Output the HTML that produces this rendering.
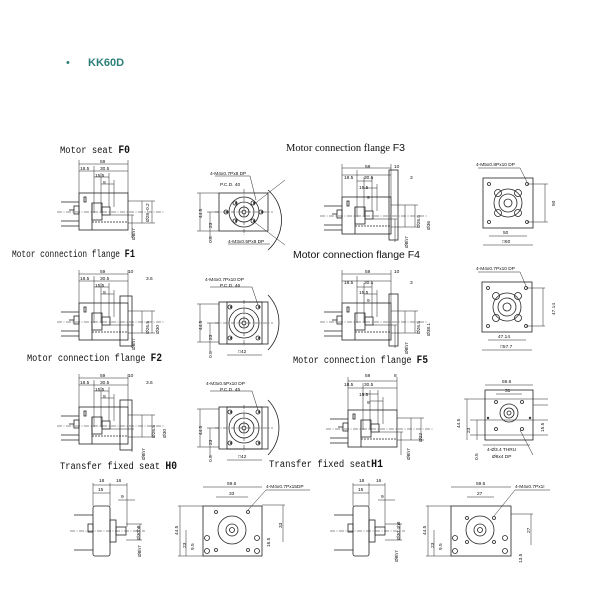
<!DOCTYPE html>
<html><head><meta charset="utf-8"><style>
html,body{margin:0;padding:0;background:#fff;width:600px;height:600px;overflow:hidden}
svg{display:block}
.t{font-family:"Liberation Mono",monospace;font-size:10px;fill:#111}
.ts{font-family:"Liberation Serif",serif;font-size:10px;fill:#111}
.ta{font-family:"Liberation Sans",sans-serif;font-size:10px;fill:#111}
.d{font-family:"Liberation Sans",sans-serif;font-size:4.8px;fill:#111}
.b{font-family:"Liberation Sans",sans-serif;font-weight:bold;font-size:11px}
</style></head><body>
<svg width="600" height="600" viewBox="0 0 600 600" xmlns="http://www.w3.org/2000/svg">
<defs>
<g id="side" fill="none" stroke="#222" stroke-width="0.8">
  <rect x="0" y="0" width="49" height="37"/>
  <line x1="0" y1="-33" x2="0" y2="0" stroke-width="0.5"/>
  <line x1="49" y1="-33" x2="49" y2="0" stroke-width="0.5"/>
  <line x1="15" y1="-27" x2="15" y2="20" stroke-width="0.5"/>
  <line x1="22" y1="-20" x2="22" y2="20" stroke-width="0.5"/>
  <line x1="30" y1="-20" x2="30" y2="14" stroke-width="0.5"/>
  <line x1="35" y1="-13" x2="35" y2="14" stroke-width="0.5"/>
  <line x1="0" y1="-29" x2="49" y2="-29" stroke-width="0.5"/>
  <line x1="0" y1="-22" x2="49" y2="-22" stroke-width="0.5"/>
  <line x1="15" y1="-16" x2="30" y2="-16" stroke-width="0.5"/>
  <line x1="22" y1="-9" x2="35" y2="-9" stroke-width="0.5"/>
  <rect x="13" y="10" width="10" height="17"/>
  <rect x="23" y="14" width="8" height="8"/>
  <line x1="13" y1="29" x2="49" y2="29" stroke-dasharray="2 1"/>
  <line x1="13" y1="10" x2="13" y2="37"/>
  <line x1="-18" y1="9" x2="0" y2="9"/>
  <line x1="-18" y1="28" x2="0" y2="28"/>
  <line x1="-18" y1="33" x2="0" y2="33"/>
  <rect x="-5" y="13" width="5" height="8"/>
  <line x1="-10" y1="17" x2="-5" y2="17"/>
  <line x1="-22" y1="19" x2="85" y2="19" stroke-dasharray="5 1.5 1 1.5" stroke-width="0.5"/>
  <rect x="5" y="4" width="2" height="5"/>
  <line x1="49" y1="8" x2="76" y2="8" stroke-width="0.5"/>
  <line x1="49" y1="30" x2="76" y2="30" stroke-width="0.5"/>
  <line x1="63" y1="8" x2="63" y2="30" stroke-width="0.5"/>
  <line x1="73" y1="8" x2="73" y2="30" stroke-width="0.5"/>
  <line x1="31" y1="22" x2="55" y2="22" stroke-width="0.5"/>
  <line x1="53" y1="22" x2="53" y2="45" stroke-width="0.5"/>
</g>
<g id="front" fill="none" stroke="#222" stroke-width="0.8">
  <circle cx="25" cy="19" r="15"/>
  <circle cx="25" cy="19" r="10"/>
  <circle cx="25" cy="19" r="5"/>
  <circle cx="25" cy="19" r="2"/>
  <line x1="-4" y1="19" x2="54" y2="19" stroke-dasharray="4 1.5 1 1.5" stroke-width="0.5"/>
  <line x1="25" y1="-4" x2="25" y2="42" stroke-dasharray="4 1.5 1 1.5" stroke-width="0.5"/>
  <line x1="-22" y1="0" x2="0" y2="0" stroke-width="0.5"/>
  <line x1="-12" y1="19" x2="0" y2="19" stroke-width="0.5"/>
  <line x1="-22" y1="38" x2="0" y2="38" stroke-width="0.5"/>
  <line x1="-19" y1="0" x2="-19" y2="38" stroke-width="0.5"/>
  <line x1="-9" y1="19" x2="-9" y2="38" stroke-width="0.5"/>
  <line x1="-9" y1="38" x2="-9" y2="48" stroke-width="0.5"/>
</g>
<g id="holes4" fill="none" stroke="#222" stroke-width="0.8">
  <circle cx="0" cy="0" r="2"/><circle cx="1" cy="0" r="0.6"/>
</g>
</defs>

<text x="66" y="66" style="font-family:'Liberation Sans',sans-serif;font-size:11px;fill:#2d7f78">•</text>
<text x="88" y="66" class="b" fill="#2d7f78">KK60D</text>

<!-- titles -->
<text x="60" y="153" class="t" textLength="70" lengthAdjust="spacingAndGlyphs">Motor seat <tspan font-size="11" font-weight="bold">F0</tspan></text>
<text x="286" y="151" class="ts" textLength="119" lengthAdjust="spacingAndGlyphs">Motor connection flange <tspan class="ta" font-size="11">F3</tspan></text>
<text x="12" y="257" class="t" textLength="123" lengthAdjust="spacingAndGlyphs">Motor connection flange <tspan font-size="11" font-weight="bold">F1</tspan></text>
<text x="293" y="258" class="ta" font-size="10.5" textLength="127" lengthAdjust="spacingAndGlyphs">Motor connection flange F4</text>
<text x="27" y="361" class="t" textLength="135" lengthAdjust="spacingAndGlyphs">Motor connection flange <tspan font-size="11" font-weight="bold">F2</tspan></text>
<text x="293" y="363" class="t" textLength="135" lengthAdjust="spacingAndGlyphs">Motor connection flange <tspan font-size="11" font-weight="bold">F5</tspan></text>
<text x="60" y="469" class="t" textLength="117" lengthAdjust="spacingAndGlyphs">Transfer fixed seat <tspan font-size="11" font-weight="bold">H0</tspan></text>
<text x="269" y="467" class="t" textLength="114" lengthAdjust="spacingAndGlyphs">Transfer fixed seat<tspan font-size="11" font-weight="bold">H1</tspan></text>

<!-- side views -->
<use href="#side" x="79" y="193"/>
<text class="d" x="100" y="163">59</text><text class="d" x="80" y="170">18.5</text><text class="d" x="100" y="170">30.5</text><text class="d" x="95" y="177">15.5</text><text class="d" x="103" y="184">9</text>
<text class="d" transform="translate(149,222) rotate(-90)">Ø28 -0.2</text><text class="d" transform="translate(135,240) rotate(-90)">Ø8h7</text>

<use href="#side" x="79" y="303"/>
<rect x="120" y="296" width="12" height="50" fill="none" stroke="#222" stroke-width="0.8"/>
<text class="d" x="100" y="273">59</text><text class="d" x="128" y="273">10</text><text class="d" x="80" y="280">18.5</text><text class="d" x="100" y="280">30.5</text><text class="d" x="146" y="280">3.5</text><text class="d" x="95" y="287">15.5</text><text class="d" x="103" y="294">9</text>
<text class="d" transform="translate(149,334) rotate(-90)">Ø26.5</text><text class="d" transform="translate(159,334) rotate(-90)">Ø30</text><text class="d" transform="translate(135,350) rotate(-90)">Ø8h7</text>

<use href="#side" x="79" y="407"/>
<rect x="120" y="400" width="12" height="50" fill="none" stroke="#222" stroke-width="0.8"/>
<text class="d" x="100" y="377">59</text><text class="d" x="128" y="377">10</text><text class="d" x="80" y="384">18.5</text><text class="d" x="100" y="384">30.5</text><text class="d" x="146" y="384">3.5</text><text class="d" x="95" y="391">15.5</text><text class="d" x="103" y="398">9</text>
<text class="d" transform="translate(155,438) rotate(-90)">Ø26.5</text><text class="d" transform="translate(166,438) rotate(-90)">Ø30</text><text class="d" transform="translate(145,460) rotate(-90)">Ø8h7</text>

<use href="#side" x="342" y="197"/>
<rect x="389" y="170" width="9" height="70" fill="none" stroke="#222" stroke-width="0.8"/>
<text class="d" x="365" y="168">59</text><text class="d" x="394" y="168">10</text><text class="d" x="344" y="179">18.5</text><text class="d" x="364" y="179">30.5</text><text class="d" x="410" y="179">3</text><text class="d" x="359" y="189">15.5</text><text class="d" x="367" y="199">9</text>
<text class="d" transform="translate(420,228) rotate(-90)">Ø26.5</text><text class="d" transform="translate(430,230) rotate(-90)">Ø36</text><text class="d" transform="translate(408,248) rotate(-90)">Ø8h7</text>

<use href="#side" x="342" y="303"/>
<rect x="389" y="294" width="9" height="52" fill="none" stroke="#222" stroke-width="0.8"/>
<text class="d" x="365" y="273">59</text><text class="d" x="394" y="273">10</text><text class="d" x="344" y="284">18.5</text><text class="d" x="364" y="284">30.5</text><text class="d" x="410" y="284">3</text><text class="d" x="359" y="294">15.5</text><text class="d" x="367" y="302">9</text>
<text class="d" transform="translate(420,334) rotate(-90)">Ø26.5</text><text class="d" transform="translate(430,336) rotate(-90)">Ø38.1</text><text class="d" transform="translate(408,354) rotate(-90)">Ø8h7</text>

<use href="#side" x="348" y="410"/>
<text class="d" x="365" y="377">59</text><text class="d" x="394" y="377">8</text><text class="d" x="344" y="386">18.5</text><text class="d" x="364" y="386">30.5</text><text class="d" x="359" y="396">15.5</text><text class="d" x="367" y="404">9</text>
<text class="d" transform="translate(422,442) rotate(-90)">Ø22</text><text class="d" transform="translate(410,460) rotate(-90)">Ø8h7</text>

<!-- front views F0 F1 F2 -->
<g fill="none" stroke="#222" stroke-width="0.8">
<rect x="219" y="193" width="49" height="38"/>
<use href="#front" x="219" y="193"/>
<path d="M268 190 A40 40 0 0 1 268 250" />
<line x1="253" y1="205" x2="285" y2="180" stroke-width="0.5"/>
<line x1="253" y1="221" x2="285" y2="245" stroke-width="0.5"/>
<use href="#holes4" x="235" y="203"/><use href="#holes4" x="253" y="203"/><use href="#holes4" x="235" y="221"/><use href="#holes4" x="253" y="221"/>
<use href="#holes4" x="226" y="212"/><use href="#holes4" x="261" y="212"/>
<line x1="215" y1="176" x2="250" y2="176" stroke-width="0.5"/><line x1="250" y1="176" x2="256" y2="200" stroke-width="0.5"/>
<line x1="228" y1="244" x2="270" y2="244" stroke-width="0.5"/>

<rect x="219" y="302" width="49" height="42"/>
<rect x="227" y="302" width="35" height="42"/>
<use href="#front" x="219" y="304"/>
<path d="M268 295 A40 40 0 0 1 268 350"/>
<use href="#holes4" x="230" y="307"/><use href="#holes4" x="258" y="307"/><use href="#holes4" x="230" y="338"/><use href="#holes4" x="258" y="338"/>
<line x1="210" y1="287" x2="252" y2="287" stroke-width="0.5"/><line x1="252" y1="287" x2="258" y2="305" stroke-width="0.5"/>
<line x1="227" y1="355" x2="262" y2="355" stroke-width="0.5"/>

<rect x="219" y="407" width="49" height="42"/>
<rect x="227" y="407" width="35" height="42"/>
<use href="#front" x="219" y="409"/>
<path d="M268 400 A40 40 0 0 1 268 455"/>
<use href="#holes4" x="230" y="412"/><use href="#holes4" x="258" y="412"/><use href="#holes4" x="230" y="443"/><use href="#holes4" x="258" y="443"/>
<line x1="210" y1="391" x2="252" y2="391" stroke-width="0.5"/><line x1="252" y1="391" x2="258" y2="410" stroke-width="0.5"/>
<line x1="227" y1="460" x2="262" y2="460" stroke-width="0.5"/>
</g>
<text class="d" x="210" y="175">4-M4x0.7Px8 DP</text><text class="d" x="220" y="186">P.C.D. 40</text>
<text class="d" x="228" y="243">4-M3x0.5Px8 DP</text>
<text class="d" transform="translate(202,218) rotate(-90)">44.5</text><text class="d" transform="translate(212,228) rotate(-90)">23</text><text class="d" transform="translate(212,243) rotate(-90)">0.5</text>
<text class="d" x="205" y="281">4-M4x0.7Px10 DP</text><text class="d" x="220" y="287">P.C.D. 46</text><text class="d" x="238" y="353">□42</text>
<text class="d" transform="translate(202,330) rotate(-90)">44.5</text><text class="d" transform="translate(212,340) rotate(-90)">23</text><text class="d" transform="translate(212,358) rotate(-90)">0.5</text>
<text class="d" x="206" y="385">4-M3x0.5Px10 DP</text><text class="d" x="220" y="391">P.C.D. 45</text><text class="d" x="238" y="458">□42</text>
<text class="d" transform="translate(202,435) rotate(-90)">44.5</text><text class="d" transform="translate(212,445) rotate(-90)">23</text><text class="d" transform="translate(212,462) rotate(-90)">0.5</text>

<!-- F3 F4 F5 fronts -->
<g fill="none" stroke="#222" stroke-width="0.8">
<rect x="483" y="178" width="50" height="50"/>
<circle cx="508" cy="203" r="14"/><circle cx="508" cy="203" r="9"/><circle cx="508" cy="203" r="4"/>
<circle cx="498" cy="193" r="3.5"/><circle cx="518" cy="193" r="3.5"/><circle cx="498" cy="213" r="3.5"/><circle cx="518" cy="213" r="3.5"/>
<circle cx="489" cy="184" r="1.5"/><circle cx="527" cy="184" r="1.5"/><circle cx="489" cy="222" r="1.5"/><circle cx="527" cy="222" r="1.5"/>
<line x1="527" y1="184" x2="548" y2="184" stroke-width="0.5"/><line x1="527" y1="222" x2="548" y2="222" stroke-width="0.5"/><line x1="545" y1="184" x2="545" y2="222" stroke-width="0.5"/>
<line x1="489" y1="236" x2="527" y2="236" stroke-width="0.5"/><line x1="483" y1="245" x2="533" y2="245" stroke-width="0.5"/>
<line x1="478" y1="168" x2="520" y2="168" stroke-width="0.5"/><line x1="520" y1="168" x2="527" y2="182" stroke-width="0.5"/>

<rect x="482" y="282" width="50" height="50"/>
<circle cx="507" cy="307" r="14"/><circle cx="507" cy="307" r="9"/><circle cx="507" cy="307" r="4"/>
<circle cx="496" cy="296" r="3.5"/><circle cx="518" cy="296" r="3.5"/><circle cx="496" cy="318" r="3.5"/><circle cx="518" cy="318" r="3.5"/>
<circle cx="488" cy="288" r="1.5"/><circle cx="526" cy="288" r="1.5"/><circle cx="488" cy="326" r="1.5"/><circle cx="526" cy="326" r="1.5"/>
<line x1="526" y1="288" x2="545" y2="288" stroke-width="0.5"/><line x1="526" y1="326" x2="545" y2="326" stroke-width="0.5"/><line x1="543" y1="288" x2="543" y2="326" stroke-width="0.5"/>
<line x1="488" y1="340" x2="526" y2="340" stroke-width="0.5"/><line x1="482" y1="350" x2="532" y2="350" stroke-width="0.5"/>
<line x1="478" y1="272" x2="520" y2="272" stroke-width="0.5"/><line x1="520" y1="272" x2="526" y2="286" stroke-width="0.5"/>

<rect x="485" y="390" width="48" height="50"/>
<circle cx="509" cy="413" r="9"/><circle cx="509" cy="413" r="5"/><circle cx="509" cy="413" r="2"/>
<circle cx="496" cy="402" r="1.5"/><circle cx="522" cy="402" r="1.5"/><circle cx="496" cy="429" r="1.5"/><circle cx="522" cy="429" r="1.5"/>
<circle cx="488" cy="418" r="0.8"/><circle cx="530" cy="418" r="0.8"/>
<line x1="464" y1="399" x2="548" y2="399" stroke-width="0.5"/><line x1="533" y1="405" x2="548" y2="405" stroke-width="0.5"/>
<line x1="470" y1="420" x2="548" y2="420" stroke-width="0.5"/><line x1="470" y1="435" x2="548" y2="435" stroke-width="0.5"/>
<line x1="467" y1="399" x2="467" y2="440" stroke-width="0.5"/><line x1="477" y1="420" x2="477" y2="440" stroke-width="0.5"/>
<line x1="485" y1="385" x2="533" y2="385" stroke-width="0.5"/><line x1="496" y1="394" x2="522" y2="394" stroke-width="0.5"/>
<line x1="483" y1="445" x2="530" y2="445" stroke-width="0.5"/><line x1="520" y1="430" x2="533" y2="455" stroke-width="0.5"/>
</g>
<text class="d" x="476" y="166">4-M5x0.8Px10 DP</text><text class="d" x="503" y="234">50</text><text class="d" x="502" y="243">□60</text>
<text class="d" transform="translate(555,206) rotate(-90)">50</text>
<text class="d" x="476" y="270">4-M4x0.7Px10 DP</text><text class="d" x="498" y="338">47.14</text><text class="d" x="500" y="348">□57.7</text>
<text class="d" transform="translate(555,315) rotate(-90)">47.14</text>
<text class="d" x="502" y="383">59.6</text><text class="d" x="505" y="392">31</text>
<text class="d" x="487" y="451">4-Ø3.4 THRU</text><text class="d" x="492" y="458">Ø6x4 DP</text>
<text class="d" transform="translate(460,428) rotate(-90)">44.5</text><text class="d" transform="translate(470,433) rotate(-90)">23</text><text class="d" transform="translate(478,460) rotate(-90)">0.5</text><text class="d" transform="translate(544,432) rotate(-90)">15.5</text>

<!-- H0 H1 -->
<g fill="none" stroke="#222" stroke-width="0.8">
<rect x="93" y="506" width="17" height="50" rx="2"/>
<rect x="110" y="520" width="6" height="22"/><rect x="116" y="527" width="10" height="8"/>
<line x1="74" y1="515" x2="93" y2="515"/><line x1="74" y1="550" x2="93" y2="550"/><rect x="88" y="524" width="5" height="8"/>
<line x1="70" y1="531" x2="145" y2="531" stroke-dasharray="5 1.5 1 1.5" stroke-width="0.5"/>
<line x1="93" y1="483" x2="93" y2="506" stroke-width="0.5"/><line x1="110" y1="483" x2="110" y2="506" stroke-width="0.5"/><line x1="127" y1="483" x2="127" y2="527" stroke-width="0.5"/>
<line x1="93" y1="485" x2="127" y2="485" stroke-width="0.5"/><line x1="93" y1="493" x2="110" y2="493" stroke-width="0.5"/><line x1="118" y1="500" x2="135" y2="500" stroke-width="0.5"/>
<line x1="126" y1="524" x2="142" y2="524" stroke-width="0.5"/><line x1="126" y1="540" x2="142" y2="540" stroke-width="0.5"/><line x1="140" y1="524" x2="140" y2="540" stroke-width="0.5"/>

<rect x="353" y="506" width="16" height="50" rx="2"/>
<rect x="369" y="520" width="6" height="22"/><rect x="375" y="527" width="10" height="8"/>
<line x1="334" y1="515" x2="353" y2="515"/><line x1="334" y1="550" x2="353" y2="550"/><rect x="348" y="524" width="5" height="8"/>
<line x1="330" y1="531" x2="405" y2="531" stroke-dasharray="5 1.5 1 1.5" stroke-width="0.5"/>
<line x1="353" y1="483" x2="353" y2="506" stroke-width="0.5"/><line x1="369" y1="483" x2="369" y2="506" stroke-width="0.5"/><line x1="385" y1="483" x2="385" y2="527" stroke-width="0.5"/>
<line x1="353" y1="485" x2="385" y2="485" stroke-width="0.5"/><line x1="353" y1="493" x2="369" y2="493" stroke-width="0.5"/><line x1="378" y1="500" x2="395" y2="500" stroke-width="0.5"/>
<line x1="385" y1="524" x2="402" y2="524" stroke-width="0.5"/><line x1="385" y1="540" x2="402" y2="540" stroke-width="0.5"/><line x1="400" y1="524" x2="400" y2="540" stroke-width="0.5"/>

<rect x="203" y="506" width="59" height="50"/>
<circle cx="232" cy="530" r="14"/><circle cx="232" cy="530" r="6"/><circle cx="232" cy="530" r="2.5"/>
<circle cx="216" cy="512" r="1.5"/><circle cx="248" cy="512" r="1.5"/><circle cx="216" cy="550" r="1.5"/><circle cx="248" cy="550" r="1.5"/>
<circle cx="207" cy="538" r="2.5"/><circle cx="257" cy="538" r="2.5"/><circle cx="207" cy="551" r="2.5"/><circle cx="257" cy="551" r="2.5"/>
<line x1="203" y1="487" x2="262" y2="487" stroke-width="0.5"/><line x1="216" y1="497" x2="248" y2="497" stroke-width="0.5"/>
<line x1="178" y1="506" x2="203" y2="506" stroke-width="0.5"/><line x1="180" y1="506" x2="180" y2="556" stroke-width="0.5"/><line x1="186" y1="530" x2="186" y2="556" stroke-width="0.5"/>
<line x1="178" y1="556" x2="203" y2="556" stroke-width="0.5"/><line x1="262" y1="505" x2="285" y2="505" stroke-width="0.5"/><line x1="283" y1="505" x2="283" y2="542" stroke-width="0.5"/>
<line x1="248" y1="510" x2="266" y2="490" stroke-width="0.5"/><line x1="266" y1="490" x2="310" y2="490" stroke-width="0.5"/>

<rect x="451" y="506" width="60" height="50"/>
<circle cx="480" cy="530" r="14"/><circle cx="480" cy="530" r="6"/><circle cx="480" cy="530" r="2.5"/>
<circle cx="467" cy="518" r="1.5"/><circle cx="494" cy="518" r="1.5"/><circle cx="467" cy="542" r="1.5"/><circle cx="494" cy="542" r="1.5"/>
<circle cx="455" cy="538" r="2.5"/><circle cx="505" cy="538" r="2.5"/><circle cx="455" cy="551" r="2.5"/><circle cx="505" cy="551" r="2.5"/>
<line x1="451" y1="487" x2="511" y2="487" stroke-width="0.5"/><line x1="467" y1="497" x2="494" y2="497" stroke-width="0.5"/>
<line x1="426" y1="506" x2="451" y2="506" stroke-width="0.5"/><line x1="428" y1="506" x2="428" y2="556" stroke-width="0.5"/><line x1="434" y1="530" x2="434" y2="556" stroke-width="0.5"/>
<line x1="426" y1="556" x2="451" y2="556" stroke-width="0.5"/><line x1="511" y1="514" x2="533" y2="514" stroke-width="0.5"/><line x1="531" y1="514" x2="531" y2="545" stroke-width="0.5"/>
<line x1="494" y1="516" x2="515" y2="490" stroke-width="0.5"/><line x1="515" y1="490" x2="550" y2="490" stroke-width="0.5"/>
</g>
<text class="d" x="99" y="482">18</text><text class="d" x="116" y="482">16</text><text class="d" x="98" y="491">15</text><text class="d" x="121" y="498">9</text>
<text class="d" transform="translate(141,557) rotate(-90)">Ø8h7</text><text class="d" transform="translate(140,540) rotate(-90)">Ø30h8</text>
<text class="d" x="359" y="482">18</text><text class="d" x="376" y="482">16</text><text class="d" x="358" y="491">15</text><text class="d" x="381" y="498">9</text>
<text class="d" transform="translate(398,562) rotate(-90)">Ø8h7</text><text class="d" transform="translate(400,540) rotate(-90)">Ø30.4h8</text>
<text class="d" x="227" y="485">59.6</text><text class="d" x="229" y="495">33</text><text class="d" x="266" y="488">4-M4x0.7Px15DP</text>
<text class="d" transform="translate(178,535) rotate(-90)">44.5</text><text class="d" transform="translate(186,548) rotate(-90)">23</text><text class="d" transform="translate(194,550) rotate(-90)">9.5</text>
<text class="d" transform="translate(282,528) rotate(-90)">33</text><text class="d" transform="translate(270,547) rotate(-90)">16.5</text>
<text class="d" x="476" y="485">59.6</text><text class="d" x="477" y="495">27</text><text class="d" x="515" y="488">4-M4x0.7Px1!</text>
<text class="d" transform="translate(426,535) rotate(-90)">44.5</text><text class="d" transform="translate(434,548) rotate(-90)">23</text><text class="d" transform="translate(442,550) rotate(-90)">9.5</text>
<text class="d" transform="translate(530,533) rotate(-90)">27</text><text class="d" transform="translate(522,563) rotate(-90)">13.5</text>
</svg>
</body></html>
